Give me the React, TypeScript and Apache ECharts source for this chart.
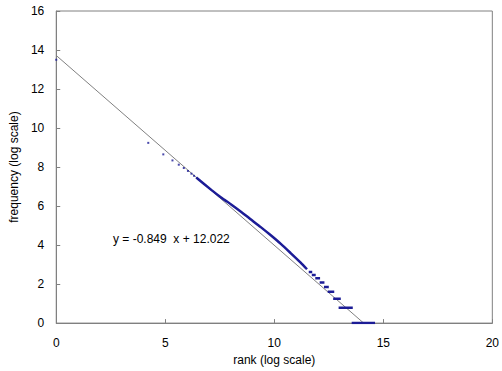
import React, { useEffect, useRef } from "react";
import * as echarts from "echarts";

// sparse points (x = ln rank, y = ln frequency)
const sparseX = [0, 4.22, 4.91, 5.33, 5.62, 5.85, 6.04, 6.2, 6.32];
const sparseY = [13.5, 9.24, 8.65, 8.34, 8.12, 7.95, 7.8, 7.66, 7.55];

// dense part of the curve
const curveX = [6.42, 7.11, 7.56, 8.02, 8.47, 8.93, 9.38, 9.84, 10.3, 10.75, 11.21, 11.5];
const curveY = [7.46, 6.83, 6.44, 6.08, 5.71, 5.31, 4.92, 4.5, 4.06, 3.59, 3.1, 2.76];

// horizontal dashes at low frequencies
const dashY = [2.62, 2.47, 2.3, 2.08, 1.85, 1.61, 1.25, 0.79, 0];
const dashX1 = [11.58, 11.72, 11.88, 12.08, 12.28, 12.45, 12.7, 12.95, 13.55];
const dashX2 = [11.74, 11.9, 12.1, 12.3, 12.5, 12.75, 13.05, 13.6, 14.62];

// trend line as drawn
const trendX = [0, 14.1];
const trendY = [13.72, 0];

const xTicks = [0, 5, 10, 15, 20];
const yTicks = [0, 2, 4, 6, 8, 10, 12, 14, 16];

const equationText = "y = -0.849  x + 12.022";

const BLUE = "#1c1c96";
const GREY = "#808080";
const FONT = "Liberation Sans";

export default function App() {
  const ref = useRef<HTMLDivElement>(null);
  useEffect(() => {
    if (!ref.current) return;
    const chart = echarts.init(ref.current, undefined, { renderer: "svg" });
    const dashSeries = dashY.map((y, i) => ({
      type: "line",
      data: [
        [dashX1[i], y],
        [dashX2[i], y],
      ],
      symbol: "none",
      lineStyle: { color: BLUE, width: 2.5 },
      z: 3,
    }));
    chart.setOption({
      animation: false,
      backgroundColor: "#ffffff",
      grid: { left: 54, right: 9, top: 11, bottom: 45, show: true, borderColor: GREY, borderWidth: 1 },
      xAxis: {
        type: "value",
        min: xTicks[0],
        max: xTicks[xTicks.length - 1],
        interval: 5,
        name: "rank (log scale)",
        nameLocation: "middle",
        nameGap: 28,
        nameTextStyle: { fontFamily: FONT, fontSize: 12, color: "#000" },
        axisLine: { lineStyle: { color: GREY } },
        axisTick: { inside: true, length: 4, lineStyle: { color: GREY } },
        axisLabel: { fontFamily: FONT, fontSize: 12, color: "#000", margin: 14 },
        splitLine: { show: false },
      },
      yAxis: {
        type: "value",
        min: yTicks[0],
        max: yTicks[yTicks.length - 1],
        interval: 2,
        name: "frequency (log scale)",
        nameLocation: "middle",
        nameGap: 31,
        nameTextStyle: { fontFamily: FONT, fontSize: 12, color: "#000" },
        axisLine: { show: true, lineStyle: { color: GREY } },
        axisTick: { show: true, inside: true, length: 4, lineStyle: { color: GREY } },
        axisLabel: { fontFamily: FONT, fontSize: 12, color: "#000", margin: 12 },
        splitLine: { show: false },
      },
      graphic: [
        {
          type: "text",
          x: 113,
          y: 239,
          style: {
            text: equationText,
            fontFamily: FONT,
            fontSize: 12,
            fill: "#000",
            verticalAlign: "middle",
          },
        },
      ],
      series: [
        {
          type: "line",
          data: trendX.map((x, i) => [x, trendY[i]]),
          symbol: "none",
          lineStyle: { color: GREY, width: 1 },
          z: 2,
        },
        {
          type: "scatter",
          data: sparseX.map((x, i) => [x, sparseY[i]]),
          symbol: "rect",
          symbolSize: 2,
          itemStyle: { color: BLUE },
          z: 3,
        },
        {
          type: "line",
          data: curveX.map((x, i) => [x, curveY[i]]),
          symbol: "none",
          smooth: 0.2,
          lineStyle: { color: BLUE, width: 2.5 },
          z: 3,
        },
        ...dashSeries,
      ],
    });
    return () => chart.dispose();
  }, []);
  return (
    <div
      ref={ref}
      style={{ position: "fixed", left: 0, top: 0, width: 502, height: 371 }}
    />
  );
}
